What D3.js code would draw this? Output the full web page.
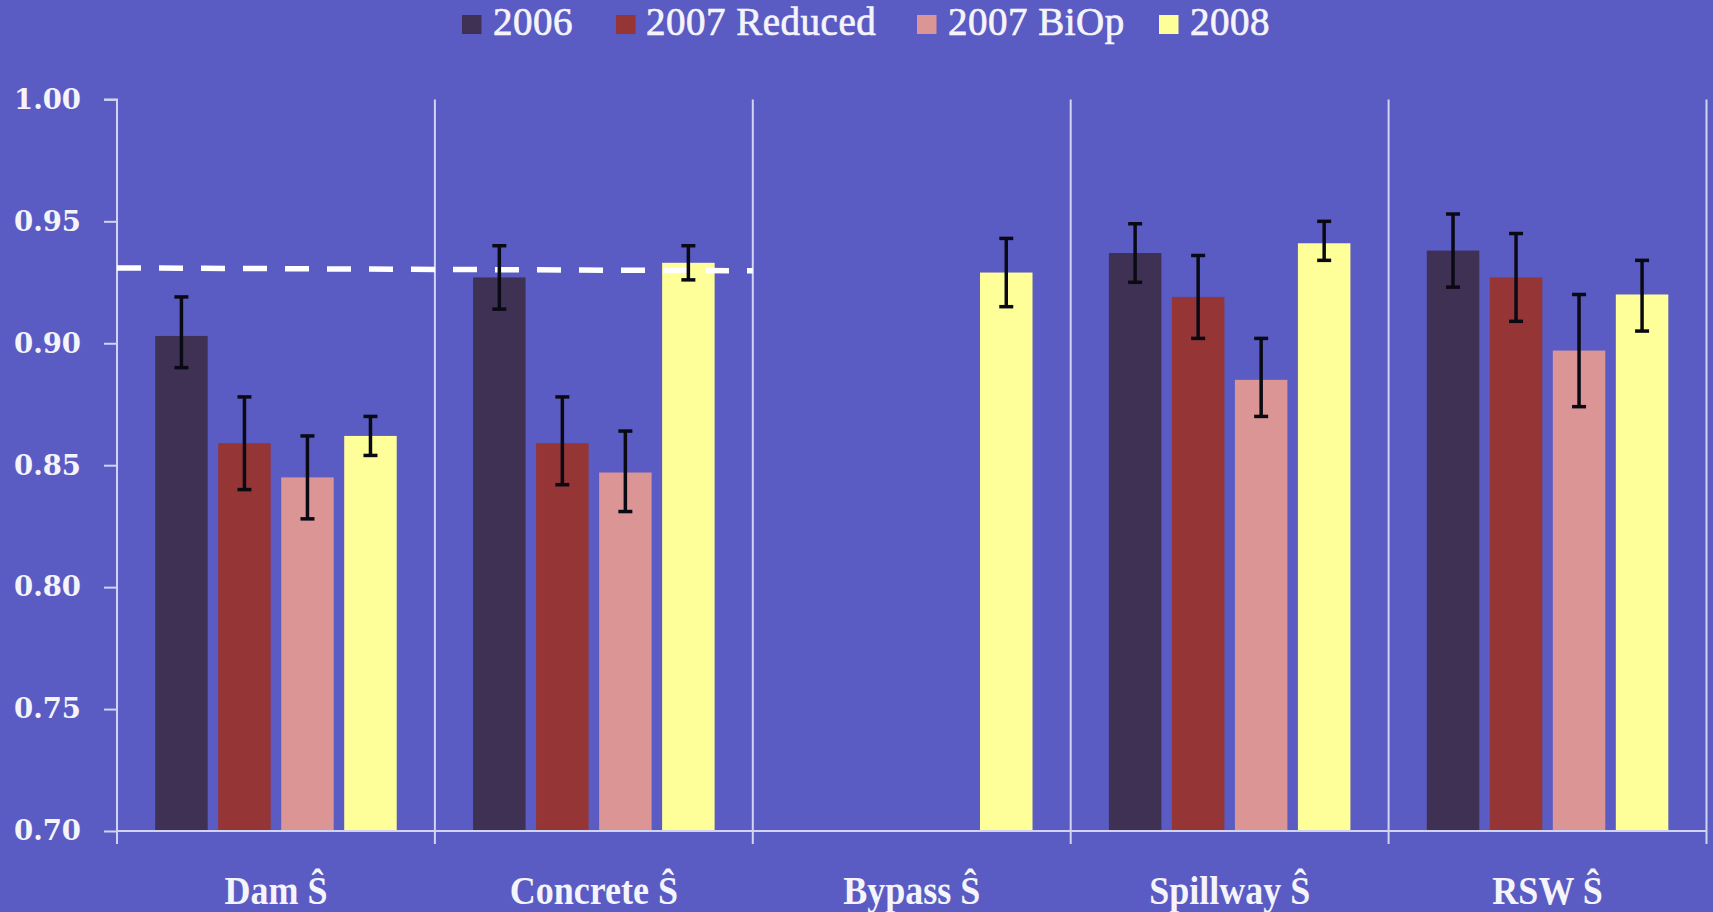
<!DOCTYPE html>
<html>
<head>
<meta charset="utf-8">
<script src="https://cdn.jsdelivr.net/npm/d3@7"></script>
<style>
  html, body { margin: 0; padding: 0; background: #5B5CC3; }
  svg { display: block; }
</style>
</head>
<body>
<svg id="chart" width="1713" height="912"></svg>
<script>
// ---- data ----
const categories = ["Dam Ŝ", "Concrete Ŝ", "Bypass Ŝ", "Spillway Ŝ", "RSW Ŝ"];
const seriesNames = ["2006", "2007 Reduced", "2007 BiOp", "2008"];
const seriesColors = ["#3F3154", "#953535", "#DC9595", "#FFFF99"];

const values2006 = [0.903, 0.927, null, 0.937, 0.938];
const values2007Reduced = [0.859, 0.859, null, 0.919, 0.927];
const values2007BiOp = [0.845, 0.847, null, 0.885, 0.897];
const values2008 = [0.862, 0.933, 0.929, 0.941, 0.920];

const lower2006 = [0.890, 0.914, null, 0.925, 0.923];
const upper2006 = [0.919, 0.940, null, 0.949, 0.953];
const lower2007Reduced = [0.840, 0.842, null, 0.902, 0.909];
const upper2007Reduced = [0.878, 0.878, null, 0.936, 0.945];
const lower2007BiOp = [0.828, 0.831, null, 0.870, 0.874];
const upper2007BiOp = [0.862, 0.864, null, 0.902, 0.920];
const lower2008 = [0.854, 0.926, 0.915, 0.934, 0.905];
const upper2008 = [0.870, 0.940, 0.943, 0.950, 0.934];

const yTicks = [0.70, 0.75, 0.80, 0.85, 0.90, 0.95, 1.00];
const targetLine = [0.9309, 0.9297]; // dashed reference line, start and end value

const seriesValues = [values2006, values2007Reduced, values2007BiOp, values2008];
const seriesLower = [lower2006, lower2007Reduced, lower2007BiOp, lower2008];
const seriesUpper = [upper2006, upper2007Reduced, upper2007BiOp, upper2008];

// ---- layout ----
const svg = d3.select("#chart");
const W = 1713, H = 912;
const plotLeft = 117, plotRight = 1706.5, plotTop = 99.4, plotBottom = 831;
const lineColor = "#D2D3F0";
const textColor = "#F4F4FA";

svg.append("rect").attr("width", W).attr("height", H).attr("fill", "#5B5CC3");

const y = d3.scaleLinear().domain([0.70, 1.00]).range([plotBottom, plotTop]);
const x0 = d3.scaleBand().domain(categories).range([plotLeft, plotRight]).padding(0);
const x1 = d3.scaleBand().domain(seriesNames).range([0, x0.bandwidth()])
  .paddingInner(0.167).paddingOuter(0.606);

// y axis
const yAxis = d3.axisLeft(y).tickValues(yTicks).tickFormat(d3.format(".2f")).tickSize(13).tickPadding(23);
const yg = svg.append("g").attr("transform", `translate(${plotLeft},0)`).call(yAxis);
yg.select(".domain").attr("stroke", lineColor).attr("stroke-width", 2).attr("d", `M-13,${plotTop}H0V${plotBottom}`);
yg.selectAll(".tick line").attr("stroke", lineColor).attr("stroke-width", 2);
yg.selectAll(".tick text")
  .attr("fill", textColor)
  .style("font-family", "'DejaVu Serif', serif")
  .style("font-weight", "bold")
  .style("font-size", "27.5px");

// category dividers
const dividerPositions = categories.map(c => x0(c) + x0.bandwidth());
svg.append("g").selectAll("line").data(dividerPositions).join("line")
  .attr("x1", d => d).attr("x2", d => d)
  .attr("y1", plotTop).attr("y2", plotBottom + 13)
  .attr("stroke", lineColor).attr("stroke-width", 2);
svg.append("line")
  .attr("x1", plotLeft).attr("x2", plotLeft)
  .attr("y1", plotBottom).attr("y2", plotBottom + 13)
  .attr("stroke", lineColor).attr("stroke-width", 2);

// bars
const barData = [];
seriesNames.forEach((s, si) => {
  categories.forEach((c, ci) => {
    const v = seriesValues[si][ci];
    if (v != null) barData.push({ s, si, c, v, lo: seriesLower[si][ci], hi: seriesUpper[si][ci] });
  });
});

svg.append("g").selectAll("rect").data(barData).join("rect")
  .attr("x", d => x0(d.c) + x1(d.s))
  .attr("width", x1.bandwidth())
  .attr("y", d => y(d.v))
  .attr("height", d => y(0.70) - y(d.v))
  .attr("fill", d => seriesColors[d.si]);

// x axis baseline
svg.append("line")
  .attr("x1", plotLeft).attr("x2", plotRight)
  .attr("y1", y(0.70)).attr("y2", y(0.70))
  .attr("stroke", lineColor).attr("stroke-width", 2);

// dashed target line
svg.append("line")
  .attr("x1", plotLeft).attr("x2", x0(categories[1]) + x0.bandwidth())
  .attr("y1", y(targetLine[0])).attr("y2", y(targetLine[1]))
  .attr("stroke", "#FFFFFF").attr("stroke-width", 5.5)
  .attr("stroke-dasharray", "24,18");

// error bars
const eg = svg.append("g").attr("stroke", "#0A0A14").attr("stroke-width", 3.5).attr("fill", "none");
const cap = 7;
barData.forEach(d => {
  const cx = x0(d.c) + x1(d.s) + x1.bandwidth() / 2;
  eg.append("line").attr("x1", cx).attr("x2", cx).attr("y1", y(d.hi)).attr("y2", y(d.lo));
  eg.append("line").attr("x1", cx - cap).attr("x2", cx + cap).attr("y1", y(d.hi)).attr("y2", y(d.hi));
  eg.append("line").attr("x1", cx - cap).attr("x2", cx + cap).attr("y1", y(d.lo)).attr("y2", y(d.lo));
});

// x category labels
svg.append("g").selectAll("text").data(categories).join("text")
  .attr("transform", d => `translate(${x0(d) + x0.bandwidth() / 2},904) scale(0.9,1)`)
  .attr("text-anchor", "middle")
  .attr("fill", textColor)
  .style("font-family", "'Liberation Serif', serif")
  .style("font-weight", "bold")
  .style("font-size", "40px")
  .text(d => d);

// legend
const legendSwatchX = [462, 616, 917, 1159];
const legendTextX = [493, 646, 948, 1190];
const lg = svg.append("g");
seriesNames.forEach((s, i) => {
  lg.append("rect").attr("x", legendSwatchX[i]).attr("y", 15).attr("width", 19.5).attr("height", 19)
    .attr("fill", seriesColors[i]);
  lg.append("text").attr("x", legendTextX[i]).attr("y", 35)
    .attr("fill", textColor)
    .attr("stroke", textColor).attr("stroke-width", 0.7)
    .style("font-family", "'Liberation Serif', serif")
    .style("font-size", "39px")
    .style("letter-spacing", "0.5px")
    .text(s);
});
</script>
</body>
</html>
